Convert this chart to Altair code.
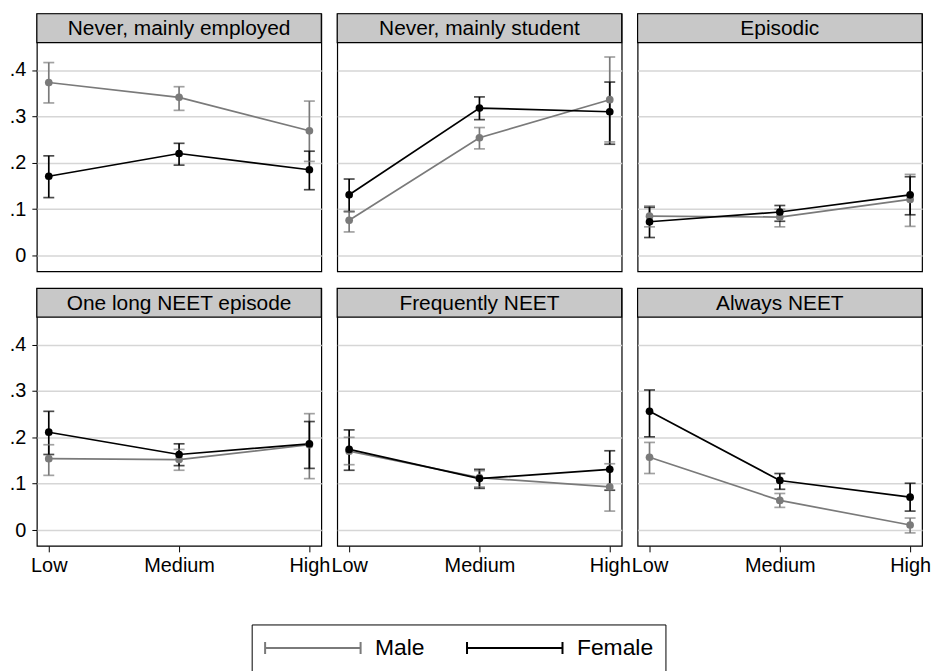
import altair as alt
import pandas as pd

panels = ["Never, mainly employed", "Never, mainly student", "Episodic",
          "One long NEET episode", "Frequently NEET", "Always NEET"]
levels = ["Low", "Medium", "High"]
sexes = ["Male", "Female"]
sex_colors = ["#7a7a7a", "#000000"]

male_est = [[.373, .341, .269], [.076, .254, .336], [.085, .083, .121],
            [.154, .152, .184], [.170, .113, .093], [.157, .064, .011]]
male_lo = [[.329, .313, .203], [.051, .230, .245], [.062, .062, .063],
           [.118, .129, .111], [.141, .093, .041], [.122, .049, -.006]]
male_hi = [[.416, .364, .333], [.095, .276, .428], [.107, .100, .175],
           [.184, .174, .251], [.200, .128, .143], [.189, .079, .026]]
female_est = [[.171, .220, .185], [.131, .318, .310], [.073, .094, .131],
              [.211, .163, .186], [.174, .111, .131], [.256, .107, .071]]
female_lo = [[.125, .195, .142], [.095, .293, .240], [.039, .074, .088],
             [.163, .139, .133], [.129, .090, .086], [.201, .088, .041]]
female_hi = [[.215, .242, .225], [.165, .342, .374], [.104, .108, .170],
             [.256, .186, .234], [.216, .131, .171], [.302, .122, .101]]

records = []
for p, name in enumerate(panels):
    for s, (est, lo, hi) in zip(sexes, [(male_est, male_lo, male_hi),
                                        (female_est, female_lo, female_hi)]):
        for j, lev in enumerate(levels):
            records.append({"panel": name, "sex": s, "edu": lev,
                            "est": est[p][j], "lo": lo[p][j], "hi": hi[p][j]})
df = pd.DataFrame(records)

W, PH, HH = 286, 230, 29
FONT = "Liberation Sans"
yscale = alt.Scale(domain=[-0.034, 0.459], nice=False, zero=False, range=[HH + PH, HH])
legend = alt.Legend(
    title=None, orient="none", legendX=216, legendY=614, direction="horizontal",
    symbolType="M-1,-0.6L-1,0.6M-1,0L8.6,0M8.6,-0.6L8.6,0.6",
    symbolSize=400, symbolStrokeWidth=2, labelFontSize=23, labelFont=FONT,
    labelColor="black", labelOffset=89, columnPadding=38, padding=12,
    strokeColor="black", symbolFillColor="transparent",
)


def make_panel(i):
    name = panels[i]
    r, c = divmod(i, 3)
    sub = df[df.panel == name]
    if r == 1:
        xaxis = alt.Axis(title=None, labelFont=FONT, labelFontSize=20, labelColor="black",
                         labelAngle=0, ticks=True, tickSize=6, tickColor="black",
                         labelPadding=4, domain=False, grid=False)
    else:
        xaxis = alt.Axis(title=None, labels=False, ticks=False, domain=False, grid=False)
    if c == 0:
        yaxis = alt.Axis(title=None, values=[0, .1, .2, .3, .4], labelFont=FONT,
                         labelFontSize=20, labelColor="black", tickColor="black",
                         tickSize=5, labelPadding=6, domain=False, grid=True,
                         gridColor="#d6d6d6", gridWidth=1.4,
                         labelExpr="datum.value == 0 ? '0' : replace(format(datum.value, '.1f'), '0.', '.')")
    else:
        yaxis = alt.Axis(title=None, values=[0, .1, .2, .3, .4], labels=False, ticks=False,
                         domain=False, grid=True, gridColor="#d6d6d6", gridWidth=1.4)
    x = alt.X("edu:O", sort=levels, scale=alt.Scale(type="point", padding=0.0916),
              axis=xaxis, title=None)
    col = alt.Color("sex:N", scale=alt.Scale(domain=sexes, range=sex_colors), sort=sexes,
                    legend=None)
    col_leg = alt.Color("sex:N", scale=alt.Scale(domain=sexes, range=sex_colors), sort=sexes,
                        legend=legend)
    base = alt.Chart(sub)
    rules = base.mark_rule(strokeWidth=1.7).encode(
        x=x, y=alt.Y("lo:Q", scale=yscale, axis=yaxis, title=None), y2="hi:Q", color=col_leg)
    cap_lo = base.mark_tick(size=11, thickness=1.7).encode(
        x=x, y=alt.Y("lo:Q", scale=yscale, title=None), color=col)
    cap_hi = base.mark_tick(size=11, thickness=1.7).encode(
        x=x, y=alt.Y("hi:Q", scale=yscale, title=None), color=col)
    lines = base.mark_line(strokeWidth=1.7).encode(
        x=x, y=alt.Y("est:Q", scale=yscale, title=None), color=col, detail="sex:N")
    pts = base.mark_circle(size=60, opacity=1).encode(
        x=x, y=alt.Y("est:Q", scale=yscale, title=None), color=col)
    hdr_df = pd.DataFrame({"t": [name]})
    hdr_box = alt.Chart(hdr_df).mark_rect(fill="#c8c8c8", stroke="black", strokeWidth=1.2).encode(
        x=alt.value(0), x2=alt.value(W), y=alt.value(0), y2=alt.value(HH))
    hdr_txt = alt.Chart(hdr_df).mark_text(font=FONT, fontSize=21, color="black").encode(
        text="t:N", x=alt.value(W / 2), y=alt.value(HH / 2 + 1))
    return alt.layer(rules, cap_lo, cap_hi, lines, pts, hdr_box, hdr_txt).properties(
        width=W, height=HH + PH)


chart = alt.concat(*[make_panel(i) for i in range(6)], columns=3,
                   spacing={"row": 17, "column": 16}, bounds="flush").properties(
    padding={"left": 0, "top": 2, "right": 0, "bottom": 0}, background="white"
).configure_view(stroke="black", strokeWidth=1.2)

chart.save("out.html", embed_options={"renderer": "svg", "actions": False})
